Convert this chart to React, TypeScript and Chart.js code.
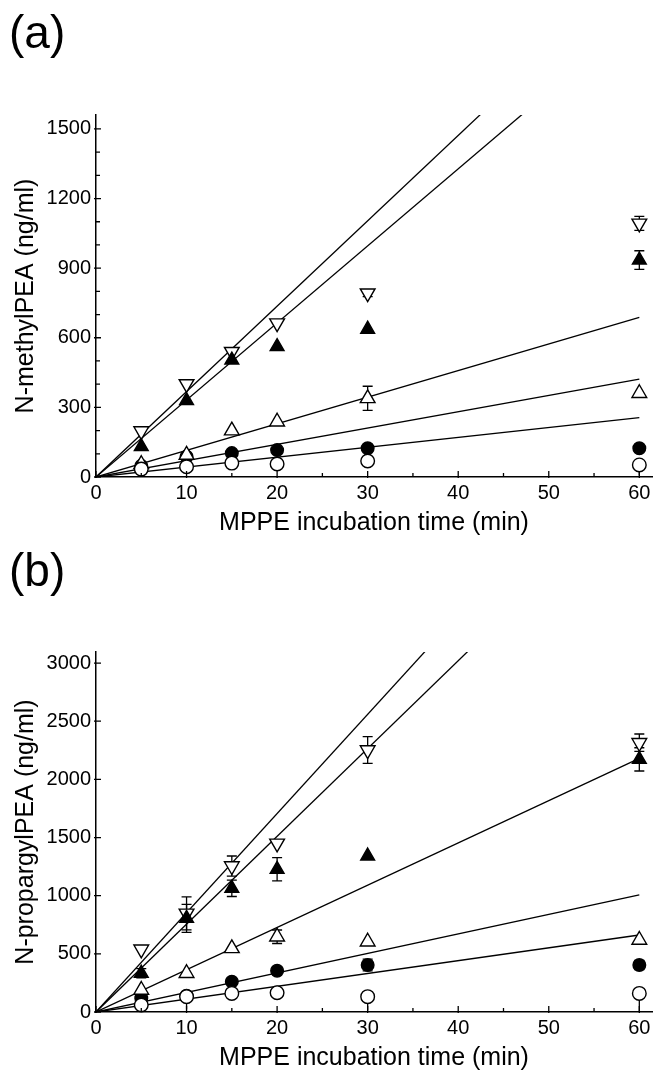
import React, { useEffect, useRef } from 'react';
import { Chart, registerables } from 'chart.js';

Chart.register(...registerables);

const FONT = '"Liberation Sans", Arial, Helvetica, sans-serif';

// Incubation times (min)
const TIMES = [5, 10, 15, 20, 30, 60];

// ---------- Panel (a): N-methylPEA (ng/ml) ----------
const A_OPEN_DOWN = [198, 401, 540, 663, 792, 1093];
const A_OPEN_DOWN_ERR = [0, 0, 0, 0, 15, 30];
const A_FILLED_UP = [131, 329, 504, 562, 637, 935];
const A_FILLED_UP_ERR = [0, 0, 0, 0, 0, 40];
const A_OPEN_UP = [55, 95, 200, 238, 339, 361];
const A_OPEN_UP_ERR = [0, 0, 0, 0, 52, 0];
const A_FILLED_CIRCLE = [48, 88, 103, 116, 124, 124];
const A_FILLED_CIRCLE_ERR = [0, 0, 0, 0, 0, 0];
const A_OPEN_CIRCLE = [34, 44, 60, 56, 69, 52];
const A_OPEN_CIRCLE_ERR = [0, 0, 0, 0, 0, 45];
// fitted lines through origin: value reached at 60 min (clipped by the axes)
const A_FIT_AT_60 = [2208, 1992, 688, 422, 256];
const A_Y_TICKS = [0, 300, 600, 900, 1200, 1500];
const A_Y_MINOR = [100, 200, 400, 500, 700, 800, 1000, 1100, 1300, 1400];
const A_Y_MAX = 1560;

// ---------- Panel (b): N-propargylPEA (ng/ml) ----------
const B_OPEN_DOWN = [539, 848, 1255, 1450, 2252, 2315];
const B_OPEN_DOWN_ERR = [0, 142, 86, 0, 115, 75];
const B_FILLED_UP = [333, 805, 1063, 1227, 1341, 2172];
const B_FILLED_UP_ERR = [40, 120, 70, 100, 0, 100];
const B_OPEN_UP = [189, 333, 547, 647, 604, 619];
const B_OPEN_UP_ERR = [0, 0, 0, 58, 0, 0];
const B_FILLED_CIRCLE = [118, 140, 261, 355, 404, 404];
const B_FILLED_CIRCLE_ERR = [0, 0, 0, 0, 50, 40];
const B_OPEN_CIRCLE = [60, 132, 160, 166, 132, 160];
const B_OPEN_CIRCLE_ERR = [0, 110, 0, 0, 120, 160];
const B_FIT_AT_60 = [5118, 4530, 2181, 1006, 662];
const B_Y_TICKS = [0, 500, 1000, 1500, 2000, 2500, 3000];
const B_Y_MINOR: number[] = [];
const B_Y_MAX = 3095;

const X_TICKS = [0, 10, 20, 30, 40, 50, 60];
const X_MINOR = [5, 15, 25, 35, 45, 55];
const X_MAX = 61.4;

// ▽ open, ▲ filled, △ open, ● filled, ○ open
const MARKERS = [
  { style: 'triangle', rotation: 180, fill: '#ffffff', radius: 8.5, order: 5, lowerOnly: false },
  { style: 'triangle', rotation: 0, fill: '#000000', radius: 8, order: 4, lowerOnly: false },
  { style: 'triangle', rotation: 0, fill: '#ffffff', radius: 8.5, order: 2, lowerOnly: false },
  { style: 'circle', rotation: 0, fill: '#000000', radius: 6.3, order: 3, lowerOnly: false },
  { style: 'circle', rotation: 0, fill: '#ffffff', radius: 6.8, order: 1, lowerOnly: true },
];

type Panel = {
  label: string;
  yTitle: string;
  series: number[][];
  errors: number[][];
  fits: number[];
  yTicks: number[];
  yMinor: number[];
  yMax: number;
  padTop: number;
};

const PANEL_A: Panel = {
  label: '(a)',
  yTitle: 'N-methylPEA (ng/ml)',
  series: [A_OPEN_DOWN, A_FILLED_UP, A_OPEN_UP, A_FILLED_CIRCLE, A_OPEN_CIRCLE],
  errors: [A_OPEN_DOWN_ERR, A_FILLED_UP_ERR, A_OPEN_UP_ERR, A_FILLED_CIRCLE_ERR, A_OPEN_CIRCLE_ERR],
  fits: A_FIT_AT_60,
  yTicks: A_Y_TICKS,
  yMinor: A_Y_MINOR,
  yMax: A_Y_MAX,
  padTop: 115,
};

const PANEL_B: Panel = {
  label: '(b)',
  yTitle: 'N-propargylPEA (ng/ml)',
  series: [B_OPEN_DOWN, B_FILLED_UP, B_OPEN_UP, B_FILLED_CIRCLE, B_OPEN_CIRCLE],
  errors: [B_OPEN_DOWN_ERR, B_FILLED_UP_ERR, B_OPEN_UP_ERR, B_FILLED_CIRCLE_ERR, B_OPEN_CIRCLE_ERR],
  fits: B_FIT_AT_60,
  yTicks: B_Y_TICKS,
  yMinor: B_Y_MINOR,
  yMax: B_Y_MAX,
  padTop: 114,
};

function makeConfig(p: Panel): any {
  const pointSets = p.series.map((vals, i) => ({
    label: 's' + i,
    data: TIMES.map((t, j) => ({ x: t, y: vals[j] })),
    pointStyle: MARKERS[i].style,
    rotation: MARKERS[i].rotation,
    pointRadius: MARKERS[i].radius,
    pointBackgroundColor: MARKERS[i].fill,
    pointBorderColor: '#000',
    pointBorderWidth: 1.4,
    showLine: false,
    clip: false,
    order: MARKERS[i].order,
  }));
  const lineSets = p.fits.map((v, i) => ({
    label: 'fit' + i,
    data: [
      { x: 0, y: 0 },
      { x: 60, y: v },
    ],
    showLine: true,
    borderColor: '#000',
    borderWidth: 1.3,
    pointRadius: 0,
    fill: false,
    order: 10,
  }));

  const decor = {
    id: 'decor',
    beforeDatasetsDraw(chart: any) {
      const { ctx, scales } = chart;
      const xs = scales.x;
      const ys = scales.y;
      ctx.save();
      ctx.strokeStyle = '#000';
      ctx.lineWidth = 1.3;
      p.series.forEach((vals, i) => {
        vals.forEach((v, j) => {
          const e = p.errors[i][j];
          if (!e) return;
          const px = xs.getPixelForValue(TIMES[j]);
          const y1 = ys.getPixelForValue(Math.max(0, v - e));
          const y2 = ys.getPixelForValue(MARKERS[i].lowerOnly ? v : v + e);
          ctx.beginPath();
          ctx.moveTo(px, y1);
          ctx.lineTo(px, y2);
          if (!MARKERS[i].lowerOnly) {
            ctx.moveTo(px - 5, y1);
            ctx.lineTo(px + 5, y1);
            ctx.moveTo(px - 5, y2);
            ctx.lineTo(px + 5, y2);
          }
          ctx.stroke();
        });
      });
      ctx.restore();
    },
    afterDraw(chart: any) {
      const { ctx, chartArea, scales } = chart;
      const xs = scales.x;
      const ys = scales.y;
      ctx.save();
      ctx.strokeStyle = '#000';
      ctx.lineWidth = 1.3;
      ctx.beginPath();
      X_TICKS.forEach((v) => {
        const px = xs.getPixelForValue(v);
        ctx.moveTo(px, chartArea.bottom + 1);
        ctx.lineTo(px, chartArea.bottom - 6);
      });
      X_MINOR.forEach((v) => {
        const px = xs.getPixelForValue(v);
        ctx.moveTo(px, chartArea.bottom);
        ctx.lineTo(px, chartArea.bottom - 4);
      });
      p.yTicks.forEach((v) => {
        const py = ys.getPixelForValue(v);
        ctx.moveTo(chartArea.left - 2, py);
        ctx.lineTo(chartArea.left + 5, py);
      });
      p.yMinor.forEach((v) => {
        const py = ys.getPixelForValue(v);
        ctx.moveTo(chartArea.left, py);
        ctx.lineTo(chartArea.left + 4, py);
      });
      ctx.stroke();
      ctx.fillStyle = '#000';
      ctx.font = '46px ' + FONT;
      ctx.textBaseline = 'alphabetic';
      ctx.textAlign = 'left';
      ctx.fillText(p.label, 9, 48);
      ctx.restore();
    },
  };

  return {
    type: 'scatter',
    data: { datasets: [...pointSets, ...lineSets] },
    options: {
      animation: false,
      responsive: false,
      maintainAspectRatio: false,
      events: [],
      layout: { autoPadding: false, padding: { top: p.padTop, right: 2, left: 0, bottom: 0 } },
      plugins: { legend: { display: false }, tooltip: { enabled: false } },
      scales: {
        x: {
          type: 'linear',
          min: 0,
          max: X_MAX,
          afterBuildTicks: (s: any) => {
            s.ticks = X_TICKS.map((v) => ({ value: v }));
          },
          afterFit: (s: any) => {
            s.height = 61;
            s.paddingLeft = 0;
            s.paddingRight = 0;
          },
          ticks: {
            autoSkip: false,
            maxRotation: 0,
            padding: 4,
            color: '#000',
            font: { family: FONT, size: 20 },
            callback: (v: any) => String(v),
          },
          grid: { display: false, drawTicks: false },
          border: { display: true, color: '#000', width: 1.5 },
          title: {
            display: true,
            text: 'MPPE incubation time (min)',
            color: '#000',
            font: { family: FONT, size: 25 },
            padding: { top: 0, bottom: 0 },
          },
        },
        y: {
          type: 'linear',
          min: 0,
          max: p.yMax,
          afterBuildTicks: (s: any) => {
            s.ticks = p.yTicks.map((v) => ({ value: v }));
          },
          afterFit: (s: any) => {
            s.width = 96;
            s.paddingTop = 0;
            s.paddingBottom = 0;
          },
          ticks: {
            autoSkip: false,
            padding: 5,
            color: '#000',
            font: { family: FONT, size: 20 },
            callback: (v: any) => String(v),
          },
          grid: { display: false, drawTicks: false },
          border: { display: true, color: '#000', width: 1.5 },
          title: {
            display: true,
            text: p.yTitle,
            color: '#000',
            font: { family: FONT, size: 25 },
            padding: { top: 11, bottom: 0 },
          },
        },
      },
    },
    plugins: [decor],
  };
}

function PanelChart({ panel, top, height }: { panel: Panel; top: number; height: number }) {
  const ref = useRef<HTMLCanvasElement | null>(null);
  useEffect(() => {
    if (!ref.current) return;
    const chart = new Chart(ref.current, makeConfig(panel));
    return () => chart.destroy();
  }, [panel]);
  return (
    <canvas
      ref={ref}
      width={654}
      height={height}
      style={{ position: 'absolute', left: 0, top, width: 654, height, display: 'block' }}
    />
  );
}

export default function App() {
  return (
    <div
      style={{
        position: 'absolute',
        left: 0,
        top: 0,
        width: 654,
        height: 1073,
        background: '#fff',
        overflow: 'hidden',
      }}
    >
      <PanelChart panel={PANEL_A} top={0} height={538} />
      <PanelChart panel={PANEL_B} top={538} height={535} />
    </div>
  );
}
